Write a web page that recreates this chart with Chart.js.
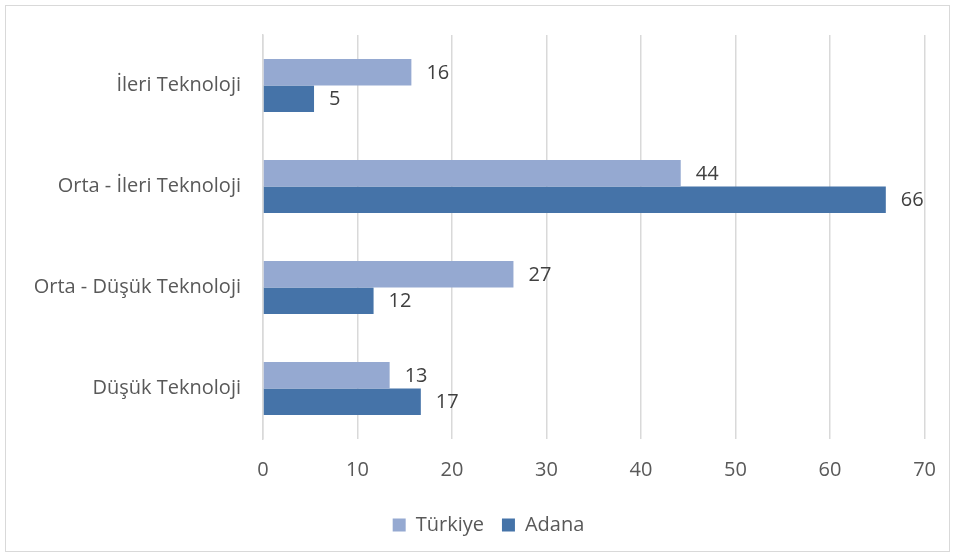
<!DOCTYPE html>
<html>
<head>
<meta charset="utf-8">
<script src="https://cdn.jsdelivr.net/npm/chart.js@4/dist/chart.umd.min.js"></script>
<style>
html,body{margin:0;padding:0;background:#fff;}
#wrap{position:relative;width:955px;height:557px;}
#frame{position:absolute;left:5px;top:5px;width:943px;height:545px;border:1px solid #d9d9d9;pointer-events:none;}
</style>
</head>
<body>
<div id="wrap">
<canvas id="chart" width="955" height="557"></canvas>
<div id="frame"></div>
</div>
<script>
const categories=["İleri Teknoloji","Orta - İleri Teknoloji","Orta - Düşük Teknoloji","Düşük Teknoloji"];
const turkiye=[15.7,44.2,26.5,13.4];
const adana=[5.4,65.9,11.7,16.7];
const xTicks=[0,10,20,30,40,50,60,70];
const COLORS={turkiye:"#95a9d1",adana:"#4573a8",grid:"#d9d9d9",text:"#595959",label:"#404040"};
const FONT="'Open Sans',sans-serif";
Chart.defaults.font.family=FONT;
Chart.defaults.color=COLORS.text;

const valueLabels={
  id:"valueLabels",
  afterDatasetsDraw(chart){
    const ctx=chart.ctx;
    ctx.save();
    ctx.font=`20px ${FONT}`;
    ctx.fillStyle=COLORS.label;
    ctx.textAlign="left";
    ctx.textBaseline="middle";
    chart.data.datasets.forEach((ds,i)=>{
      chart.getDatasetMeta(i).data.forEach((bar,j)=>{
        ctx.fillText(String(Math.round(ds.data[j])),bar.x+15,bar.y+1);
      });
    });
    ctx.restore();
  }
};
// legend in the reference sits a bit right of the canvas centre
const legendShift={
  id:"legendShift",
  afterLayout(chart){
    if(chart.legend){chart.legend.left+=26;chart.legend.right+=26;}
  }
};

new Chart(document.getElementById("chart"),{
  type:"bar",
  data:{labels:categories,datasets:[
    {label:"Türkiye",data:turkiye,backgroundColor:COLORS.turkiye,categoryPercentage:0.525,barPercentage:1},
    {label:"Adana",data:adana,backgroundColor:COLORS.adana,categoryPercentage:0.525,barPercentage:1}
  ]},
  options:{
    indexAxis:"y",responsive:false,animation:false,
    layout:{padding:{left:0,right:30,top:35,bottom:12}},
    scales:{
      x:{min:0,max:70,
        afterBuildTicks:s=>{s.ticks=xTicks.map(v=>({value:v}));},
        afterFit:s=>{s.height=58;},
        grid:{color:COLORS.grid,lineWidth:1.5,drawTicks:false},
        border:{display:false},
        ticks:{padding:19,color:COLORS.text,font:{size:20}}},
      y:{afterFit:s=>{s.width=263;},
        grid:{display:false,drawTicks:false},
        border:{display:true,color:COLORS.grid,width:1.5},
        ticks:{padding:22,color:COLORS.text,font:{size:20}}}
    },
    plugins:{
      legend:{display:true,position:"bottom",
        labels:{boxWidth:13,boxHeight:13,padding:18,color:COLORS.text,font:{size:20}}},
      tooltip:{enabled:false}
    }
  },
  plugins:[valueLabels,legendShift]
});
</script>
</body>
</html>
